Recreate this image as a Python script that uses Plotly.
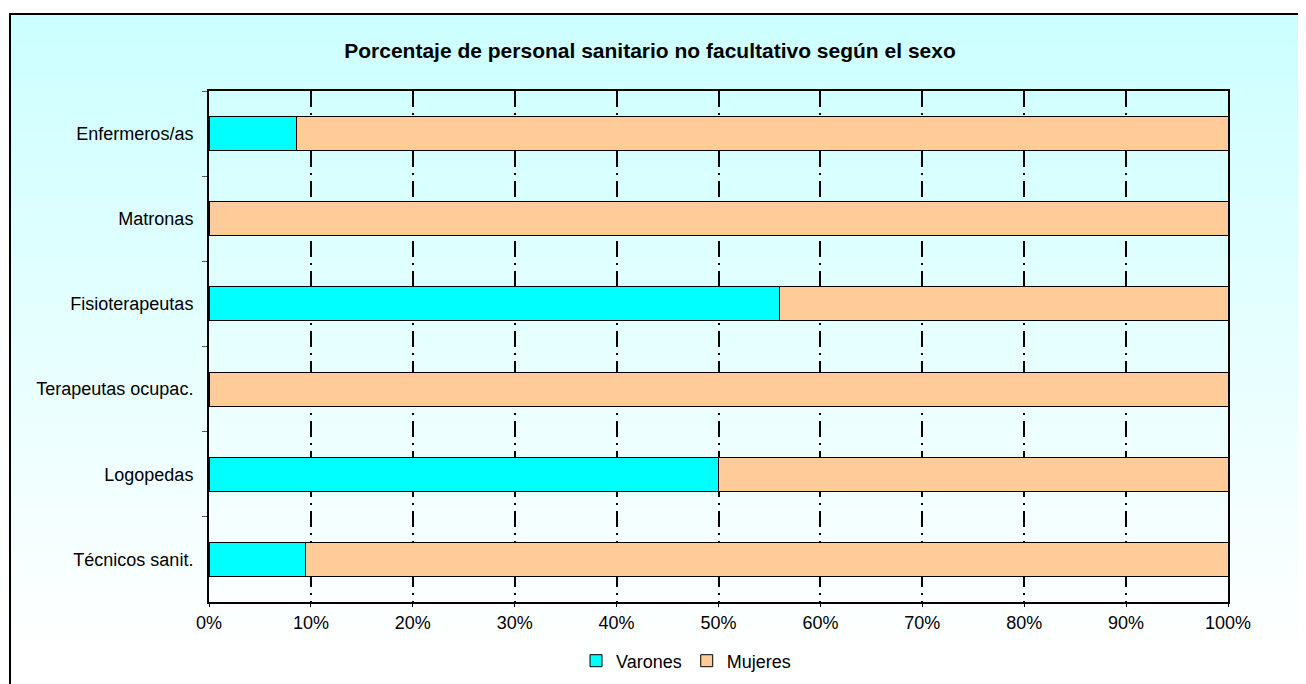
import plotly.graph_objects as go

categories = ["Enfermeros/as", "Matronas", "Fisioterapeutas", "Terapeutas ocupac.", "Logopedas", "Técnicos sanit."]
varones = [8.6, 0.0, 56.0, 0.0, 50.0, 9.5]
mujeres = [91.4, 100.0, 44.0, 100.0, 50.0, 90.5]
series_names = ["Varones", "Mujeres"]
x_ticks = [0, 10, 20, 30, 40, 50, 60, 70, 80, 90, 100]
x_tick_labels = [f"{v}%" for v in x_ticks]
title_text = "Porcentaje de personal sanitario no facultativo según el sexo"

W, H = 1306, 684
OFF = 8  # page body margin
# plot area in page px (reference) -> figure px
L, R, T, B = 209 - OFF, 1228 - OFF, 91 - OFF, 602 - OFF
pw, ph = R - L, B - T

def px_x(x):
    return (x - OFF - L) / pw

def px_y(y):
    return (B - (y - OFF)) / ph

FONT = "Liberation Sans, Arial, sans-serif"

fig = go.Figure()
fig.add_trace(go.Bar(
    y=categories, x=varones, name=series_names[0], orientation="h",
    marker=dict(color="#00FFFF", line=dict(color="black", width=1)), width=0.4,
))
fig.add_trace(go.Bar(
    y=categories, x=mujeres, name=series_names[1], orientation="h",
    marker=dict(color="#FFCC99", line=dict(color="black", width=1)), width=0.4,
))

# background gradient bands (page px)
shapes = []
top_px, bot_px = 13, 660
n = 60
c0 = (204, 255, 255)
c1 = (255, 255, 255)
for i in range(n):
    y0 = top_px + (bot_px - top_px) * i / n
    y1 = top_px + (bot_px - top_px) * (i + 1) / n + 0.5
    t = i / (n - 1)
    c = tuple(round(c0[k] + (c1[k] - c0[k]) * t) for k in range(3))
    shapes.append(dict(type="rect", xref="paper", yref="paper",
                       x0=px_x(9), x1=px_x(W + 20), y0=px_y(y1), y1=px_y(y0),
                       fillcolor=f"rgb{c}", line=dict(width=0), layer="below"))
# outer border
shapes.append(dict(type="rect", xref="paper", yref="paper",
                   x0=px_x(10), x1=px_x(W + 20), y0=px_y(H + 20), y1=px_y(14),
                   fillcolor="rgba(0,0,0,0)", line=dict(color="black", width=2), layer="above"))

fig.update_layout(
    width=W, height=H,
    margin=dict(l=L, r=W - R, t=T, b=H - B, pad=0),
    paper_bgcolor="white", plot_bgcolor="rgba(0,0,0,0)",
    barmode="stack", bargap=0.6,
    shapes=shapes,
    font=dict(family=FONT, size=18, color="black"),
    title=dict(text="<b>" + title_text + "</b>", x=(650 - OFF) / W, xanchor="center",
               y=1 - (51 - OFF) / H, yanchor="middle", yref="container",
               font=dict(family=FONT, size=21, color="black")),
    legend=dict(orientation="h", x=px_x(686), xanchor="center", y=px_y(661), yanchor="middle",
                bgcolor="rgba(0,0,0,0)", font=dict(family=FONT, size=18, color="black"),
                itemwidth=30, traceorder="normal", tracegroupgap=0),
    showlegend=True,
)
fig.update_xaxes(
    range=[0, 100], tickvals=x_ticks, ticktext=x_tick_labels,
    showgrid=True, gridcolor="black", gridwidth=1.5, griddash="16px,6px,2px,6px",
    showline=True, linecolor="black", linewidth=2, mirror=True,
    ticks="outside", ticklen=3, tickcolor="black", zeroline=False,
    tickfont=dict(family=FONT, size=18, color="black"),
)
fig.update_yaxes(
    categoryorder="array", categoryarray=categories, autorange="reversed",
    showgrid=False, showline=True, linecolor="black", linewidth=2, mirror=True,
    ticks="outside", ticklen=5, tickcolor="#555555", tickson="boundaries",
    ticklabelstandoff=10,
    tickfont=dict(family=FONT, size=18, color="black"),
)

fig.write_html("out.html")
